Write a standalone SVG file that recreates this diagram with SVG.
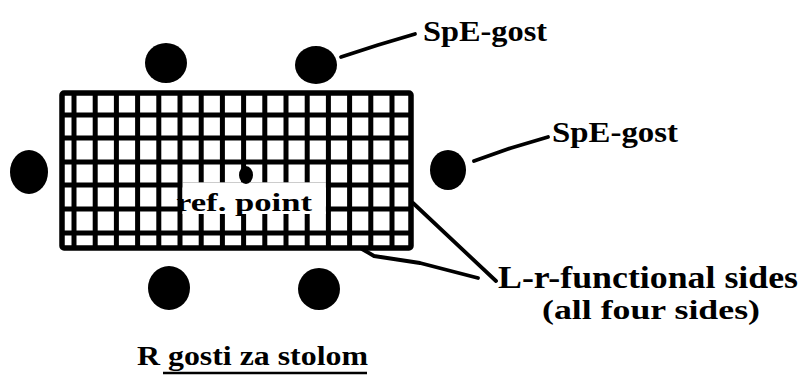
<svg xmlns="http://www.w3.org/2000/svg" width="805" height="376" viewBox="0 0 805 376">
  <style>
    .grid { fill: none; stroke: #000; stroke-width: 5; }
    .border { fill: none; stroke: #000; stroke-width: 5.5; }
    .guest { fill: #000; }
    .lead { fill: none; stroke: #000; stroke-width: 3.8; stroke-linecap: round; stroke-linejoin: round; }
    .lbl { font-family: "Liberation Serif", "DejaVu Serif", serif; font-weight: bold; fill: #000; }
  </style>
  <rect width="805" height="376" fill="#fff"/>
  <g id="table">
    <path class="grid" d="M74,93V248 M95.2,93V248 M116.4,93V248 M137.6,93V248 M158.8,93V248 M180,93V248 M201.2,93V248 M222.4,93V248 M243.6,93V248 M264.8,93V248 M286,93V248 M307.2,93V248 M328.4,93V248 M349.6,93V248 M370.8,93V248 M392,93V248 M62,115H411 M62,138H411 M62,162H411 M62,185H411 M62,209H411 M62,233H411"/>
    <rect class="border" x="62" y="93" width="349" height="155" rx="2"/>
    <rect x="182.5" y="182.4" width="143.4" height="31.6" fill="#fff"/>
  </g>
  <g id="ref-point">
    <ellipse class="guest" cx="246" cy="175" rx="7" ry="9"/>
    <text class="lbl" x="176" y="211" font-size="26" textLength="136" lengthAdjust="spacingAndGlyphs">ref. point</text>
  </g>
  <g id="guest-top-left"><ellipse class="guest" cx="166" cy="63" rx="21" ry="20"/></g>
  <g id="guest-top-right"><ellipse class="guest" cx="316" cy="65" rx="21" ry="19"/></g>
  <g id="guest-left"><ellipse class="guest" cx="29" cy="172" rx="19" ry="22"/></g>
  <g id="guest-right"><ellipse class="guest" cx="448" cy="170" rx="18" ry="20"/></g>
  <g id="guest-bottom-left"><ellipse class="guest" cx="169" cy="288" rx="21" ry="22"/></g>
  <g id="guest-bottom-right"><ellipse class="guest" cx="319" cy="289" rx="21" ry="21"/></g>
  <g id="connectors">
    <path class="lead" d="M341,57 L378,45 L415,34"/>
    <path class="lead" d="M474,161 L511,148 L548,137"/>
    <path class="lead" d="M413,203 L496,281"/>
    <path class="lead" d="M362,249 L374,256 L420,263 L478,278"/>
  </g>
  <g id="label-spe-1"><text class="lbl" x="423" y="41" font-size="30" textLength="124" lengthAdjust="spacingAndGlyphs">SpE-gost</text></g>
  <g id="label-spe-2"><text class="lbl" x="552" y="142" font-size="30" textLength="126" lengthAdjust="spacingAndGlyphs">SpE-gost</text></g>
  <g id="label-sides">
    <text class="lbl" x="498" y="288" font-size="31" textLength="300" lengthAdjust="spacingAndGlyphs">L-r-functional sides</text>
    <text class="lbl" x="542" y="319" font-size="28" textLength="218" lengthAdjust="spacingAndGlyphs">(all four sides)</text>
  </g>
  <g id="caption">
    <text class="lbl" x="137" y="365" font-size="27" textLength="231" lengthAdjust="spacingAndGlyphs">R gosti za stolom</text>
    <line x1="163" y1="373" x2="367" y2="373" stroke="#000" stroke-width="2.5"/>
  </g>
</svg>
